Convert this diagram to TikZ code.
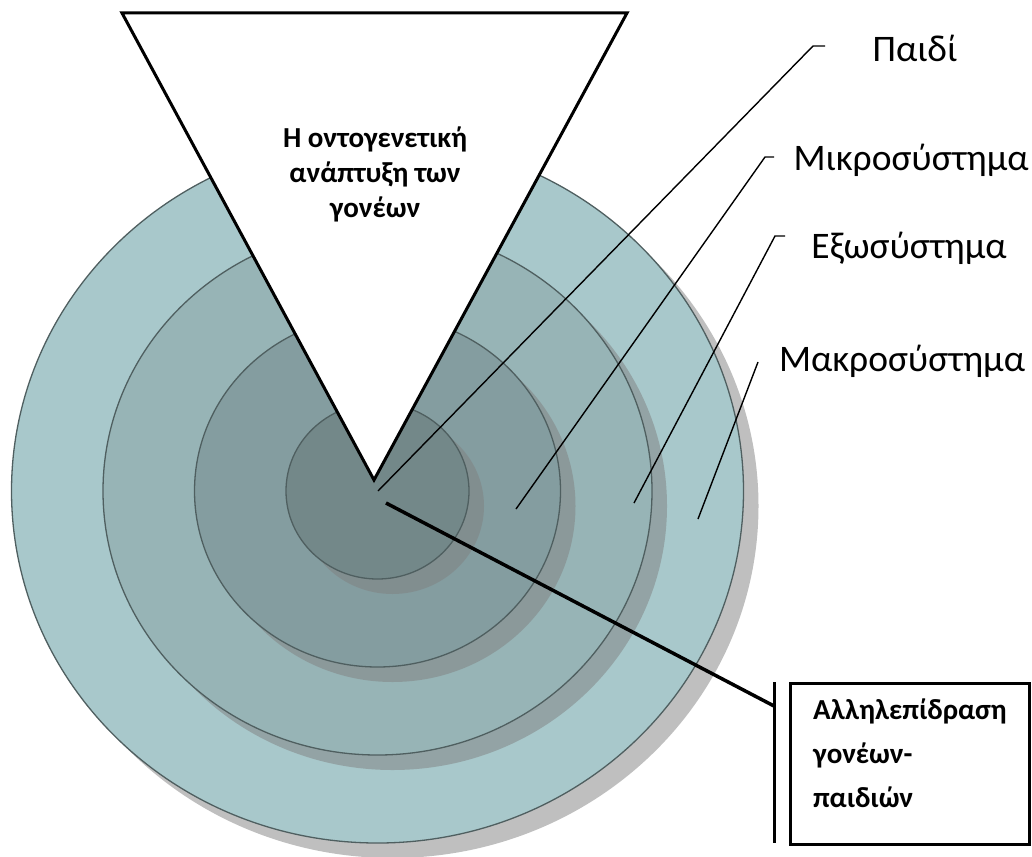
\documentclass[tikz,border=0pt]{standalone}
\usepackage{fontspec}
\setmainfont{Carlito}
\definecolor{ringA}{HTML}{A8C8CB}
\definecolor{ringB}{HTML}{97B4B6}
\definecolor{ringC}{HTML}{849DA0}
\definecolor{ringD}{HTML}{738889}
\definecolor{ringedge}{HTML}{4F5F60}
\definecolor{shadowgray}{HTML}{808080}
\begin{document}
\begin{tikzpicture}[x=1pt,y=-1pt,
  ringline/.style={draw=ringedge, line width=1.3pt},
  shadowfill/.style={fill=shadowgray, fill opacity=0.5},
  tri/.style={draw=black, fill=white, line width=3pt, line join=miter},
  leader/.style={draw=black, line width=1.4pt},
  heavy/.style={draw=black, line width=3.5pt},
  lbl/.style={font=\fontsize{37.5}{45}\selectfont, inner sep=0pt},
  tritxt/.style={font=\bfseries\fontsize{29}{35}\selectfont, inner sep=0pt},
  boxtxt/.style={font=\bfseries\fontsize{29}{44}\selectfont, inner sep=0pt},
  framebox/.style={draw=black, line width=3pt, minimum width=239pt, minimum height=161pt, inner sep=0pt, anchor=north west}
]
\useasboundingbox (0,0) rectangle (1032,856);
\fill[white] (0,0) rectangle (1032,856);
\coordinate (c) at (377.5,491);
% rings with shadows
\fill[shadowfill] (392.5,506) ellipse [x radius=366, y radius=352];
\fill[ringA] (c) ellipse [x radius=366, y radius=352];
\draw[ringline] (c) ellipse [x radius=366, y radius=352];
\fill[shadowfill] (392.5,506) ellipse [x radius=274.5, y radius=264];
\fill[ringB] (c) ellipse [x radius=274.5, y radius=264];
\draw[ringline] (c) ellipse [x radius=274.5, y radius=264];
\fill[shadowfill] (392.5,506) ellipse [x radius=183, y radius=176];
\fill[ringC] (c) ellipse [x radius=183, y radius=176];
\draw[ringline] (c) ellipse [x radius=183, y radius=176];
\fill[shadowfill] (392.5,506) ellipse [x radius=91.5, y radius=88];
\fill[ringD] (c) ellipse [x radius=91.5, y radius=88];
\draw[ringline] (c) ellipse [x radius=91.5, y radius=88];
% triangle
\coordinate (tl) at (122,13);
\coordinate (tr) at (627,13);
\coordinate (tb) at (374,480);
\draw[tri] (tl) -- (tr) -- (tb) -- cycle;
\node[tritxt, align=center] (tritext) at (375,174) {Η οντογενετική\\ανάπτυξη των\\γονέων};
% labels
\node[lbl] (paidi) at (915,48) {Παιδί};
\node[lbl] (mikro) at (911,160) {Μικροσύστημα};
\node[lbl] (exo) at (909,248) {Εξωσύστημα};
\node[lbl] (makro) at (902,361) {Μακροσύστημα};
% leaders
\coordinate (p0) at (378,491);
\coordinate (p1) at (813,46);
\coordinate (p2) at (825,46);
\draw[leader] (p0) -- (p1) -- (p2);
\coordinate (m0) at (516,509);
\coordinate (m1) at (765,157);
\coordinate (m2) at (774,157);
\draw[leader] (m0) -- (m1) -- (m2);
\coordinate (e0) at (634,503);
\coordinate (e1) at (775,236);
\coordinate (e2) at (785,236);
\draw[leader] (e0) -- (e1) -- (e2);
\coordinate (k0) at (698,519);
\coordinate (k1) at (758,362);
\draw[leader] (k0) -- (k1);
% interaction box
\node[framebox] (box) at (789,682) {};
\node[boxtxt, align=left, anchor=north west] (boxtext) at (813,699) {Αλληλεπίδραση\\γονέων-\\παιδιών};
\coordinate (b1) at (774,682);
\coordinate (b2) at (774,843);
\draw[heavy, line width=3pt] (b1) -- (b2);
\coordinate (cs) at (386,503);
\coordinate (be) at (774,706);
\draw[heavy] (cs) -- (be);
\end{tikzpicture}
\end{document}
